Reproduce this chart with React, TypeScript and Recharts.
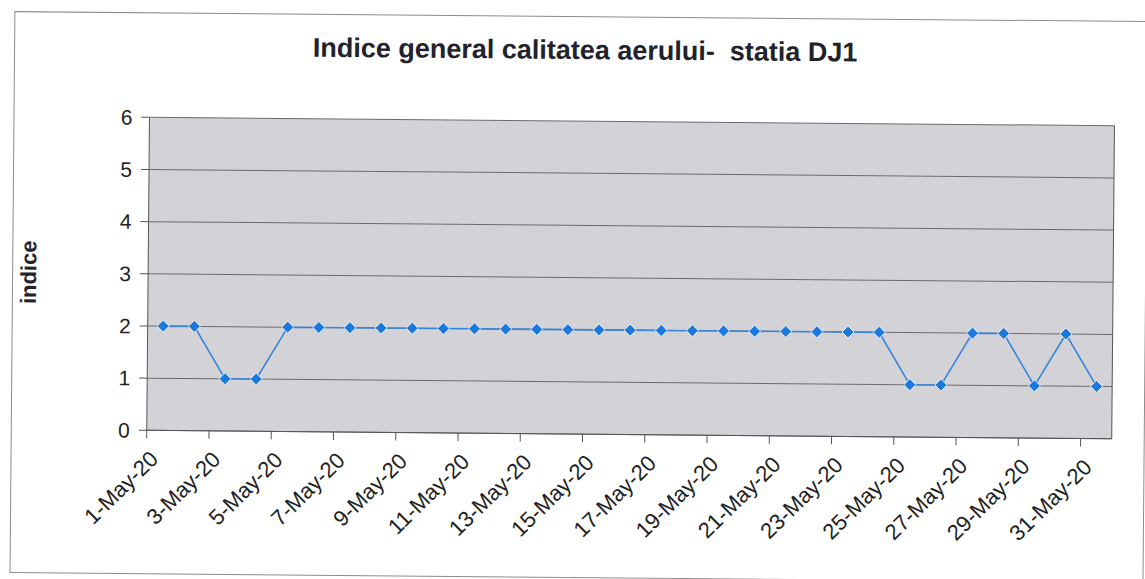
import { CartesianGrid, Line, LineChart, ReferenceLine, XAxis, YAxis } from 'recharts';

const days = [1, 2, 3, 4, 5, 6, 7, 8, 9, 10, 11, 12, 13, 14, 15, 16, 17, 18, 19, 20, 21, 22, 23, 24, 25, 26, 27, 28, 29, 30, 31];

const indice = [2, 2, 1, 1, 2, 2, 2, 2, 2, 2, 2, 2, 2, 2, 2, 2, 2, 2, 2, 2, 2, 2, 2, 2, 1, 1, 2, 2, 1, 2, 1];

const tickLabels = [
  '1-May-20', '3-May-20', '5-May-20', '7-May-20', '9-May-20', '11-May-20', '13-May-20', '15-May-20',
  '17-May-20', '19-May-20', '21-May-20', '23-May-20', '25-May-20', '27-May-20', '29-May-20', '31-May-20',
];

const yTicks = [0, 1, 2, 3, 4, 5, 6];

const data = days.map((day, i) => ({ day, indice: indice[i] }));
// excel puts the ticks on the category boundaries, one every two days
const xTicks = tickLabels.map((_, i) => 0.5 + 2 * i);

const FONT = '"Liberation Sans", Arial, sans-serif';

function DateTick({ x, y, payload }: any) {
  const label = tickLabels[Math.round((payload.value - 0.5) / 2)];
  const tx = x + 13;
  const ty = y + 20;
  return (
    <text x={tx} y={ty} transform={`rotate(-45, ${tx}, ${ty})`} textAnchor="end" fill="#222" fontSize={22} fontFamily={FONT}>
      {label}
    </text>
  );
}

function Diamond({ cx, cy }: any) {
  if (cx == null || cy == null) return null;
  const r = 6;
  return <path d={`M${cx},${cy - r}L${cx + r},${cy}L${cx},${cy + r}L${cx - r},${cy}Z`} fill="#1b78dc" stroke="#ffffff" strokeWidth={0.8} />;
}

export default function App() {
  return (
    <div style={{ position: 'absolute', left: 0, top: 0, width: 1145, height: 579, background: '#fff', overflow: 'hidden' }}>
      <div style={{ position: 'absolute', left: 0, top: 0, width: 1145, height: 579, transform: 'rotate(0.5deg)' }}>
        <div style={{ position: 'absolute', left: 12, top: 16, width: 1132, height: 560, border: '1px solid #8c8c8c' }} />
        <LineChart width={1145} height={579} data={data} margin={{ top: 121, right: 32, bottom: 35, left: 8 }} style={{ position: 'absolute', left: 0, top: 0 }}>
          <text x={583} y={59} textAnchor="middle" fontSize={27} fontWeight="bold" fill="#22222c" fontFamily={FONT}>
            Indice general calitatea aerului-{'\u00a0'} statia DJ1
          </text>
          <text x={36} y={277} transform="rotate(-90, 36, 277)" textAnchor="middle" fontSize={22} fontWeight="bold" fill="#22222c" fontFamily={FONT}>
            indice
          </text>
          <CartesianGrid vertical={false} stroke="#6c6c6c" fill="#d3d2d7" fillOpacity={1} />
          <XAxis
            dataKey="day"
            type="number"
            domain={[0.5, 31.5]}
            ticks={xTicks}
            interval={0}
            tickSize={8}
            height={110}
            stroke="#555"
            tick={<DateTick />}
          />
          <YAxis
            domain={[0, 6]}
            ticks={yTicks}
            interval={0}
            width={140}
            tickSize={8}
            tickMargin={9}
            stroke="#555"
            tick={{ fill: '#222', fontSize: 21, fontFamily: FONT }}
          />
          <ReferenceLine x={31.5} stroke="#555" />
          <Line
            type="linear"
            dataKey="indice"
            stroke="#3384dc"
            strokeWidth={1.6}
            dot={<Diamond />}
            isAnimationActive={false}
          />
        </LineChart>
      </div>
    </div>
  );
}
